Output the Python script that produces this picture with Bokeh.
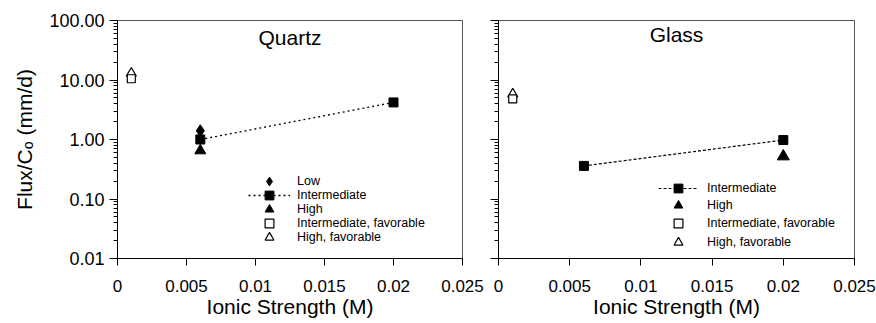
from bokeh.plotting import figure
from bokeh.models import (FixedTicker, PrintfTickFormatter, Legend, LegendItem,
                          Label, Range1d)
from bokeh.layouts import row
from bokeh.embed import file_html
from bokeh.resources import INLINE

# ---------------- data ----------------
x_ticks = [0, 0.005, 0.01, 0.015, 0.02, 0.025]
x_tick_labels = ["0", "0.005", "0.01", "0.015", "0.02", "0.025"]
y_ticks = [0.01, 0.1, 1, 10, 100]

# Quartz
q_low_x = [0.006]
q_low_y = [1.4]
q_int_x = [0.006, 0.02]
q_int_y = [1.0, 4.2]
q_high_x = [0.006]
q_high_y = [0.65]
q_int_fav_x = [0.001]
q_int_fav_y = [10.5]
q_high_fav_x = [0.001]
q_high_fav_y = [13.0]

# Glass
g_int_x = [0.006, 0.02]
g_int_y = [0.36, 0.98]
g_high_x = [0.02]
g_high_y = [0.52]
g_int_fav_x = [0.001]
g_int_fav_y = [4.8]
g_high_fav_x = [0.001]
g_high_fav_y = [5.8]

FONT = "Liberation Sans"
minor = [k * 10.0 ** e for e in range(-2, 2) for k in range(2, 10)]


def make_fig(width, mbl, mbr, mbt, show_ylabels):
    p = figure(width=width, height=323, x_range=Range1d(0, 0.025),
               y_range=Range1d(0.01, 100), y_axis_type="log",
               output_backend="svg", toolbar_location=None,
               min_border_left=mbl, min_border_right=mbr,
               min_border_top=mbt, min_border_bottom=65)
    p.xgrid.visible = False
    p.ygrid.visible = False
    p.outline_line_color = "#555555"
    p.outline_line_width = 1
    p.background_fill_color = "white"
    p.border_fill_color = "white"

    xa = p.xaxis[0]
    xa.ticker = FixedTicker(ticks=x_ticks)
    xa.major_label_overrides = {t: l for t, l in zip(x_ticks, x_tick_labels)}
    xa.major_tick_out = 7
    xa.major_tick_in = 0
    xa.minor_tick_out = 0
    xa.minor_tick_in = 0
    xa.axis_line_color = "black"
    xa.major_tick_line_color = "black"
    xa.major_label_text_font = FONT
    xa.major_label_text_font_size = "17px"
    xa.major_label_text_color = "black"
    xa.major_label_standoff = 14
    xa.axis_label = "Ionic Strength (M)"
    xa.axis_label_text_font = FONT
    xa.axis_label_text_font_size = "21px"
    xa.axis_label_text_font_style = "normal"
    xa.axis_label_text_color = "black"
    xa.axis_label_standoff = 0

    ya = p.yaxis[0]
    ya.ticker = FixedTicker(ticks=y_ticks, minor_ticks=minor)
    ya.major_tick_out = 8
    ya.major_tick_in = 0
    ya.minor_tick_out = 4
    ya.minor_tick_in = 0
    ya.axis_line_color = "black"
    ya.major_tick_line_color = "black"
    ya.minor_tick_line_color = "black"
    ya.major_label_text_font = FONT
    ya.major_label_text_color = "black"
    ya.major_label_text_font_size = "18px"
    if show_ylabels:
        ya.formatter = PrintfTickFormatter(format="%.2f")
        ya.major_label_standoff = 5
        ya.axis_label = "Flux/Cₒ (mm/d)"
        ya.axis_label_text_font = FONT
        ya.axis_label_text_font_size = "21px"
        ya.axis_label_text_font_style = "normal"
        ya.axis_label_text_color = "black"
        ya.axis_label_standoff = 10
    else:
        ya.major_label_overrides = {t: "" for t in y_ticks}
        ya.major_label_standoff = 0
    return p


def single_legend(label, renderers, loc, gw, standoff):
    return Legend(items=[LegendItem(label=label, renderers=renderers)],
                  location=loc, orientation="vertical",
                  padding=0, margin=0, spacing=0,
                  glyph_height=22, glyph_width=gw, label_standoff=standoff,
                  label_height=12, label_text_font=FONT,
                  label_text_font_size="12.5px", label_text_color="black",
                  border_line_color=None, background_fill_alpha=0)


# ---------------- Quartz ----------------
p1 = make_fig(486, 117, 24, 20, True)
q_line = p1.line(q_int_x, q_int_y, line_color="black", line_width=1.3,
                 line_dash="2 3")
q_sq = p1.scatter(q_int_x, q_int_y, marker="square", size=9, color="black")
q_dia = p1.scatter(q_low_x, q_low_y, marker="diamond", size=12, color="black")
q_tri = p1.scatter(q_high_x, q_high_y, marker="triangle", size=11, color="black")
q_otri = p1.scatter(q_high_fav_x, q_high_fav_y, marker="triangle", size=10,
                    fill_color="white", line_color="black", line_width=1.2)
q_osq = p1.scatter(q_int_fav_x, q_int_fav_y, marker="square", size=8,
                   fill_color="white", line_color="black", line_width=1.2)
p1.add_layout(Label(x=0.0125, y=221, y_units="screen", text="Quartz",
                    text_align="center", text_baseline="middle",
                    text_font=FONT, text_font_size="21px", text_color="black"))
q_legend = [
    ("Low", [q_dia], 66),
    ("Intermediate", [q_line, q_sq], 52),
    ("High", [q_tri], 38),
    ("Intermediate, favorable", [q_osq], 24),
    ("High, favorable", [q_otri], 10),
]
for lab, rs, yy in q_legend:
    p1.add_layout(single_legend(lab, rs, (131, yy), 42, 7))

# ---------------- Glass ----------------
p2 = make_fig(390, 12, 22, 17, False)
g_line = p2.line(g_int_x, g_int_y, line_color="black", line_width=1.2,
                 line_dash="3 2")
g_sq = p2.scatter(g_int_x, g_int_y, marker="square", size=9, color="black")
g_tri = p2.scatter(g_high_x, g_high_y, marker="triangle", size=12, color="black")
g_otri = p2.scatter(g_high_fav_x, g_high_fav_y, marker="triangle", size=10,
                    fill_color="white", line_color="black", line_width=1.2)
g_osq = p2.scatter(g_int_fav_x, g_int_fav_y, marker="square", size=8,
                   fill_color="white", line_color="black", line_width=1.2)
p2.add_layout(Label(x=0.0125, y=224, y_units="screen", text="Glass",
                    text_align="center", text_baseline="middle",
                    text_font=FONT, text_font_size="21px", text_color="black"))
g_legend = [
    ("Intermediate", [g_line, g_sq], 59),
    ("High", [g_tri], 42),
    ("Intermediate, favorable", [g_osq], 24),
    ("High, favorable", [g_otri], 5),
]
for lab, rs, yy in g_legend:
    p2.add_layout(single_legend(lab, rs, (160, yy), 40, 9))

layout = row(p1, p2)
open("out.html", "w").write(file_html(layout, INLINE))
